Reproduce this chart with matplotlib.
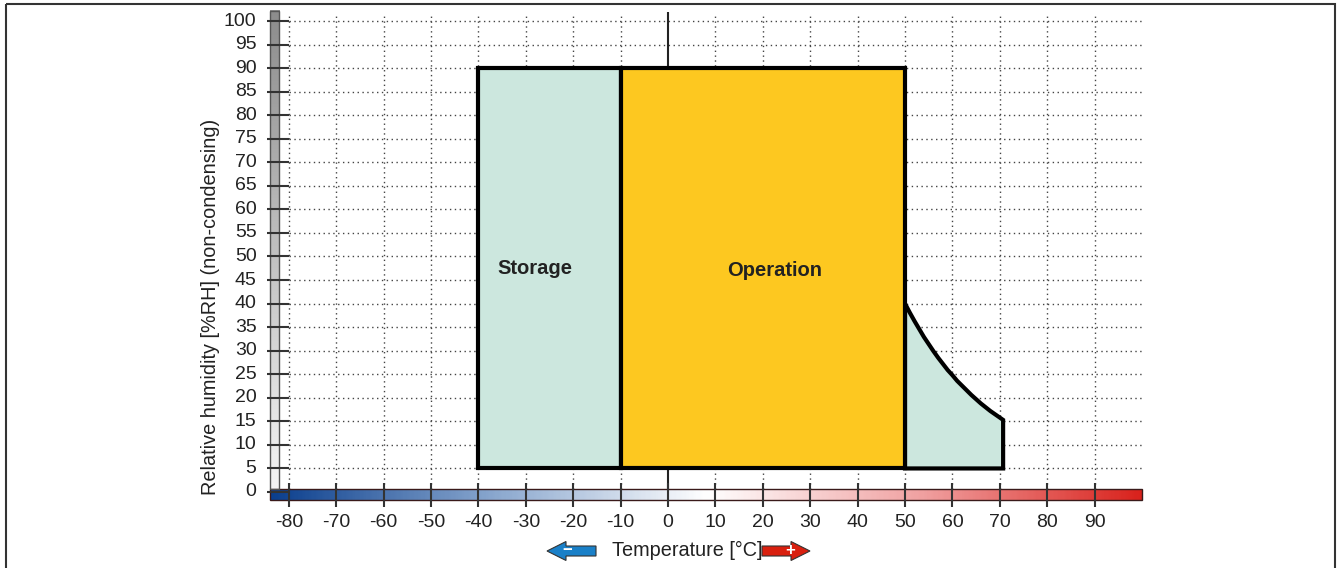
import numpy as np
import matplotlib
matplotlib.use('Agg')
from matplotlib import pyplot as plt
from matplotlib.colors import LinearSegmentedColormap
from matplotlib.patches import Polygon, Rectangle, FancyArrow
from matplotlib.transforms import Affine2D

plt.rcParams['font.family'] = ['Liberation Sans', 'DejaVu Sans']

# chart values
x_ticks = [-80, -70, -60, -50, -40, -30, -20, -10, 0, 10, 20, 30, 40, 50, 60, 70, 80, 90]
y_ticks = [0, 5, 10, 15, 20, 25, 30, 35, 40, 45, 50, 55, 60, 65, 70, 75, 80, 85, 90, 95, 100]

storage_t = [-40, -10]
operation_t = [-10, 50]
rh_range = [5, 90]

# storage extension above 50 degC (falling RH limit)
curve_t = [50, 51, 52, 53, 54, 55, 56, 57, 58, 59, 60, 61, 62, 63, 64,
           65, 66, 67, 68, 69, 70, 70.7]
curve_rh = [40.0, 38.1, 36.3, 34.6, 32.9, 31.4, 29.9, 28.5, 27.2, 25.9, 24.8,
            23.6, 22.6, 21.6, 20.6, 19.7, 18.8, 18.0, 17.2, 16.5, 15.8, 15.3]

region_labels = ['Storage', 'Operation']
label_pos = [(-28, 47.5), (22.5, 47)]

W, H = 1338, 568
fig = plt.figure(figsize=(W / 100, H / 100), dpi=100)

# axes placed so that x: 0 -> px 668, 4.74 px/deg; y: 0 -> px 492, 4.71 px/%
xlo, xhi = -86.1, 100.6
ylo, yhi = -4.0, 104.0
px_l = 668 + xlo * 4.74
px_r = 668 + xhi * 4.74
py_b = 492 - ylo * 4.71
py_t = 492 - yhi * 4.71
ax = fig.add_axes([px_l / W, 1 - py_b / H, (px_r - px_l) / W, (py_b - py_t) / H])
ax.set_xlim(xlo, xhi)
ax.set_ylim(ylo, yhi)
for s in ax.spines.values():
    s.set_visible(False)

# dotted grid
ax.hlines(y_ticks[1:], -80, 100, colors='#444444', linestyles=(0, (1, 2.5)), lw=1, zorder=1)
ax.vlines([t for t in x_ticks if t != 0], 0.6, 101, colors='#444444',
          linestyles=(0, (1, 2.5)), lw=1, zorder=1)
ax.vlines(0, -1, 102, colors='#222222', lw=1.5, zorder=1)

# gradient bars
temp_cmap = LinearSegmentedColormap.from_list(
    'temp', ['#0b3f8e', '#87a5cd', '#ffffff', '#f0a0a0', '#d9221c'])
grad = np.linspace(-84, 100, 400)[None, :]
ax.imshow(grad, cmap=temp_cmap, vmin=-84, vmax=100, aspect='auto',
          extent=[-84, 100, -1.6, 0.6], zorder=2)
ax.add_patch(Rectangle((-84, -1.6), 184, 2.2, fill=False, ec='#3a1a1a', lw=1, zorder=3))

gray_cmap = LinearSegmentedColormap.from_list('hum', ['#f4f4f4', '#8c8c8c'])
vgrad = np.linspace(0, 1, 300)[:, None]
ax.imshow(vgrad, cmap=gray_cmap, origin='lower', aspect='auto',
          extent=[-84, -82, 0.6, 102.2], zorder=2)
ax.add_patch(Rectangle((-84, 0.6), 2, 101.6, fill=False, ec='#555555', lw=1, zorder=3))

# regions
ax.add_patch(Rectangle((storage_t[0], rh_range[0]), storage_t[1] - storage_t[0],
                       rh_range[1] - rh_range[0], fc='#cce7de', ec='black', lw=3, zorder=4))
ext = [(operation_t[1], rh_range[0])] + list(zip(curve_t, curve_rh)) + [(curve_t[-1], rh_range[0])]
ax.add_patch(Polygon(ext, closed=True, fc='#cce7de', ec='black', lw=3,
                     joinstyle='miter', zorder=4))
ax.add_patch(Rectangle((operation_t[0], rh_range[0]), operation_t[1] - operation_t[0],
                       rh_range[1] - rh_range[0], fc='#fdc820', ec='black', lw=3, zorder=5))

for lab, (tx_, ty_) in zip(region_labels, label_pos):
    ax.text(tx_, ty_, lab, ha='center', va='center', fontsize=14.5,
            fontweight='bold', color='#222222', zorder=6)

# ticks: drawn as crossing lines
ax.hlines(y_ticks, -84.5, -80, colors='#333333', lw=1.5, zorder=6)
ax.vlines(x_ticks, -3.2, 2, colors='#333333', lw=1.5, zorder=6)
ax.set_xticks([])
ax.set_yticks([])
for t in y_ticks:
    ax.text(-86.8, t, str(t), ha='right', va='center', fontsize=14, color='#222222',
            clip_on=False)
for t in x_ticks:
    ax.text(t, -4.6, str(t), ha='center', va='top', fontsize=14, color='#222222',
            clip_on=False)

fig.text(210 / W, 1 - 307 / H, 'Relative humidity [%RH] (non-condensing)', rotation=90,
         ha='center', va='center', fontsize=14.3, color='#222222')
fig.text(687 / W, 1 - 550 / H, 'Temperature [°C]', ha='center', va='center',
         fontsize=14.3, color='#222222')

# direction arrows, drawn in pixel space
pix = Affine2D().scale(1, -1).translate(0, H)
for x0, x1, col, sgn, sx in [(596, 547, '#1a80c8', '\u2212', 567), (762, 810, '#d9200f', '+', 790)]:
    arr = FancyArrow(x0, 551, x1 - x0, 0, width=10, head_width=19, head_length=19,
                     length_includes_head=True, fc=col, ec='#333333', lw=0.8,
                     transform=pix)
    fig.patches.append(arr)
    fig.text(sx / W, 1 - 551 / H, sgn, ha='center', va='center', fontsize=12,
             fontweight='bold', color='white')

# outer frame
fig.patches.append(Rectangle((6, 4), 1329, 580, fill=False, ec='#333333', lw=1.5,
                             transform=pix))

fig.savefig('out.png', dpi=100)
